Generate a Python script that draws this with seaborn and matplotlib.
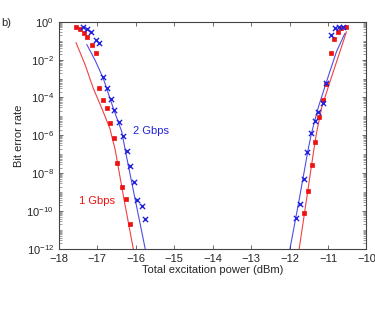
import numpy as np
import pandas as pd
import matplotlib
matplotlib.use("Agg")
import matplotlib.pyplot as plt
import matplotlib.ticker as mticker
import seaborn as sns

red_x = [-17.55, -17.45, -17.34, -17.26, -17.14, -17.04, -16.95, -16.86, -16.75,
         -16.66, -16.56, -16.48, -16.36, -16.25, -16.15,
         -10.54, -10.65, -10.74, -10.84, -10.93, -11.04, -11.13, -11.23, -11.34,
         -11.41, -11.53, -11.62]
red_log = [-0.26, -0.40, -0.61, -0.82, -1.23, -1.64, -3.48, -4.13, -4.54,
           -5.37, -6.16, -7.44, -8.73, -9.35, -10.68,
           -0.26, -0.35, -0.53, -0.93, -1.67, -3.30, -4.13, -5.01, -6.37,
           -7.56, -8.94, -10.12]

blue_x = [-17.36, -17.26, -17.17, -17.04, -16.94, -16.84, -16.75, -16.65, -16.55,
          -16.44, -16.34, -16.23, -16.15, -16.04, -15.96, -15.84, -15.75,
          -10.62, -10.71, -10.82, -10.93, -11.06, -11.13, -11.25, -11.33, -11.43,
          -11.54, -11.63, -11.73, -11.84]
blue_log = [-0.26, -0.40, -0.54, -0.97, -1.14, -2.94, -3.48, -4.07, -4.66,
            -5.28, -6.03, -6.81, -7.62, -8.45, -9.41, -9.71, -10.42,
            -0.26, -0.26, -0.35, -0.70, -3.25, -4.31, -4.75, -5.23, -5.89,
            -6.86, -8.32, -9.64, -10.35]

# fitted curves (left and right branches)
red_fit_left_x = [-17.55, -17.31, -17.10, -16.88, -16.67, -16.53, -16.30, -16.06]
red_fit_left_log = [-1.10, -2.29, -3.52, -4.57, -5.63, -6.78, -9.40, -12.0]
red_fit_right_x = [-10.52, -10.69, -10.95, -11.17, -11.30, -11.37, -11.56, -11.75]
red_fit_right_log = [-0.53, -1.58, -3.17, -4.57, -5.89, -6.78, -9.40, -12.0]

blue_fit_left_x = [-17.27, -17.05, -16.84, -16.58, -16.36, -16.27, -16.01, -15.75]
blue_fit_left_log = [-1.20, -2.05, -3.00, -4.57, -5.81, -6.78, -9.40, -12.0]
blue_fit_right_x = [-10.56, -10.78, -11.04, -11.26, -11.43, -11.52, -11.75, -11.99]
blue_fit_right_log = [-0.61, -1.58, -3.17, -4.57, -5.89, -6.78, -9.40, -12.0]

RED = "#ee1111"
BLUE = "#2222dd"

sns.set_style("ticks")
plt.rcParams["font.family"] = ["Liberation Sans", "DejaVu Sans"]
plt.rcParams["mathtext.fontset"] = "custom"
plt.rcParams["mathtext.rm"] = "Liberation Sans"
plt.rcParams["mathtext.it"] = "Liberation Sans"

fig = plt.figure(figsize=(3.75, 3.29), dpi=100)
ax = fig.add_axes([0.1565, 0.243, 0.8208, 0.691])


def ber(vals):
    return np.power(10.0, np.array(vals))


# fit lines
for xs, ys, c in [(red_fit_left_x, red_fit_left_log, RED),
                  (red_fit_right_x, red_fit_right_log, RED),
                  (blue_fit_left_x, blue_fit_left_log, BLUE),
                  (blue_fit_right_x, blue_fit_right_log, BLUE)]:
    ax.plot(xs, ber(ys), color=c, lw=0.8, alpha=0.8)

# measured points
red_df = pd.DataFrame({"power": red_x, "ber": ber(red_log)})
blue_df = pd.DataFrame({"power": blue_x, "ber": ber(blue_log)})
sns.scatterplot(data=red_df, x="power", y="ber", ax=ax, marker="s", s=11,
                color=RED, edgecolor=RED, linewidth=0.5, zorder=3)
sns.scatterplot(data=blue_df, x="power", y="ber", ax=ax, marker="x", s=14,
                color=BLUE, linewidth=1.0, zorder=4)

ax.set_yscale("log")
ax.set_xlim(-18, -10)
ax.set_ylim(1e-12, 1)
ax.set_xticks(range(-18, -9))
ax.set_yticks([10.0 ** k for k in range(-12, 1, 2)])
ax.yaxis.set_major_formatter(mticker.FuncFormatter(
    lambda v, p: r"$10^{%d}$" % round(np.log10(v))))
ax.yaxis.set_minor_locator(mticker.LogLocator(base=10, subs=np.arange(1, 10), numticks=30))
ax.yaxis.set_minor_formatter(mticker.NullFormatter())

ax.tick_params(which="both", direction="in", top=True, right=True,
               labelsize=8, color="#555555")
ax.tick_params(which="major", length=3, width=0.6)
ax.tick_params(which="minor", length=2, width=0.4)
for s in ax.spines.values():
    s.set_linewidth(0.8)
    s.set_color("#444444")

ax.set_xlabel("Total excitation power (dBm)", fontsize=8, labelpad=1)
ax.set_ylabel("Bit error rate", fontsize=8, labelpad=2)

ax.text(-16.07, 10 ** -5.77, "2 Gbps", color=BLUE, fontsize=8, va="center")
ax.text(-17.46, 10 ** -9.47, "1 Gbps", color=RED, fontsize=8, va="center")
fig.text(0.003, 0.93, "b)", fontsize=8, ha="left", va="center")

fig.savefig("out.png", dpi=100)
